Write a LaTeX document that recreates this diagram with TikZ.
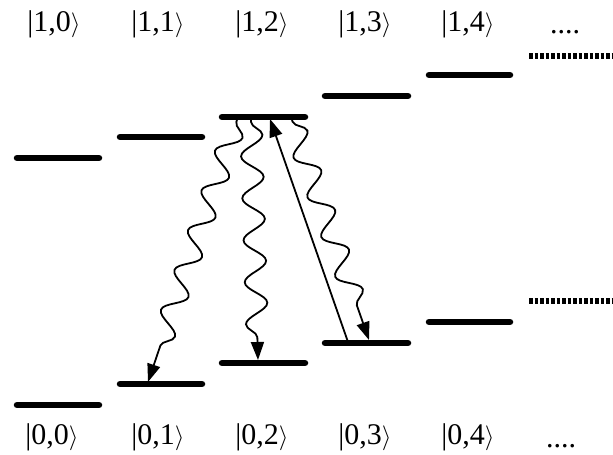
\documentclass[tikz,border=0pt]{standalone}
\usepackage{fontspec}
\setmainfont{Liberation Serif}
\usetikzlibrary{decorations.pathmorphing,arrows.meta}
\begin{document}
\begin{tikzpicture}[x=1pt,y=-1pt,
  level/.style={line width=6.5pt,line cap=round},
  dotlevel/.style={line width=5.5pt,dash pattern=on 3.5pt off 2pt},
  ket/.style={font=\fontsize{30}{34}\selectfont,inner sep=0pt},
  tip/.style={-{Triangle[length=18pt,width=13pt]}},
  wave/.style={tip,line width=1.8pt,decorate,decoration={snake,amplitude=11pt,segment length=42pt,post length=18pt,pre length=2pt}}]
\useasboundingbox (0,0) rectangle (613,455);
% upper levels
\draw[level] (17,158) coordinate (a0) -- (99,158) coordinate (b0);
\draw[level] (120,137) coordinate (a1) -- (202,137) coordinate (b1);
\draw[level] (222,117) coordinate (a2) -- (305,117) coordinate (b2);
\draw[level] (325,96) coordinate (a3) -- (408,96) coordinate (b3);
\draw[level] (429,75) coordinate (a4) -- (510,75) coordinate (b4);
\draw[dotlevel] (529,56) coordinate (a5) -- (613,56) coordinate (b5);
% lower levels
\draw[level] (17,405) coordinate (c0) -- (99,405) coordinate (d0);
\draw[level] (120,384) coordinate (c1) -- (202,384) coordinate (d1);
\draw[level] (222,363) coordinate (c2) -- (305,363) coordinate (d2);
\draw[level] (325,343) coordinate (c3) -- (408,343) coordinate (d3);
\draw[level] (429,322) coordinate (c4) -- (510,322) coordinate (d4);
\draw[dotlevel] (529,301) coordinate (c5) -- (613,301) coordinate (d5);
% labels
\node[ket] (t0) at (54,24) {|1,0$\rangle$};
\node[ket] (t1) at (158,24) {|1,1$\rangle$};
\node[ket] (t2) at (262,24) {|1,2$\rangle$};
\node[ket] (t3) at (365,24) {|1,3$\rangle$};
\node[ket] (t4) at (468,24) {|1,4$\rangle$};
\node[ket,anchor=base] (t5) at (565,33) {....};
\node[ket] (g0) at (52,437) {|0,0$\rangle$};
\node[ket] (g1) at (158,437) {|0,1$\rangle$};
\node[ket] (g2) at (262,437) {|0,2$\rangle$};
\node[ket] (g3) at (365,437) {|0,3$\rangle$};
\node[ket] (g4) at (468,437) {|0,4$\rangle$};
\node[ket,anchor=base] (g5) at (561,447) {....};
% transition points
\coordinate (s1) at (237,120);
\coordinate (e1) at (148,382);
\coordinate (s2) at (251,120);
\coordinate (e2) at (258,360);
\coordinate (s3) at (292,120);
\coordinate (e3) at (369,340);
\coordinate (p0) at (348,342);
\coordinate (p1) at (270,119);
% transitions
\draw[wave] (s1) -- (e1);
\draw[wave] (s2) -- (e2);
\draw[wave] (s3) -- (e3);
\draw[tip,line width=1.8pt] (p0) -- (p1);
\end{tikzpicture}
\end{document}
